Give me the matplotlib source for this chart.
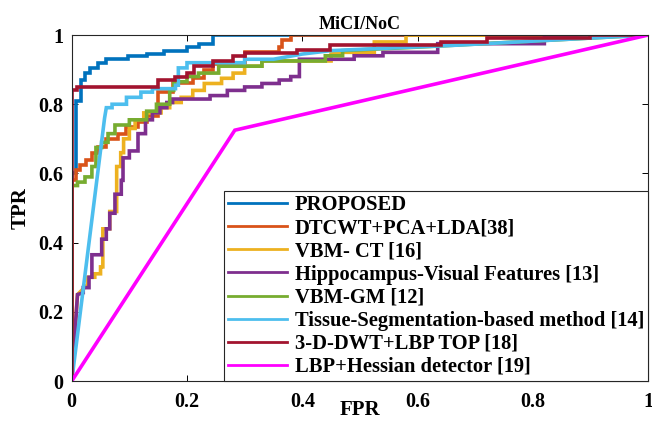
import matplotlib
matplotlib.use('Agg')
import matplotlib.pyplot as plt

# ROC curves (FPR, TPR vertices)
proposed_fpr = [0, 0, 0.008, 0.008, 0.016, 0.016, 0.023, 0.023, 0.031, 0.031, 0.045, 0.045, 0.06, 0.06,
                0.097, 0.097, 0.13, 0.13, 0.16, 0.16, 0.2, 0.2, 0.22, 0.22, 0.245, 0.245, 1]
proposed_tpr = [0, 0.6, 0.6, 0.81, 0.81, 0.87, 0.87, 0.89, 0.89, 0.905, 0.905, 0.92, 0.92, 0.93,
                0.93, 0.94, 0.94, 0.945, 0.945, 0.955, 0.955, 0.965, 0.965, 0.975, 0.975, 1, 1]

dtcwt_fpr = [0, 0, 0.008, 0.008, 0.015, 0.015, 0.025, 0.025, 0.035, 0.035, 0.045, 0.045, 0.06, 0.06,
             0.08, 0.08, 0.095, 0.095, 0.115, 0.115, 0.13, 0.13, 0.15, 0.15, 0.175, 0.175, 0.21, 0.21,
             0.23, 0.23, 0.245, 0.245, 0.3, 0.3, 0.36, 0.36, 0.365, 0.365, 0.38, 0.38, 1]
dtcwt_tpr = [0, 0.58, 0.58, 0.61, 0.61, 0.625, 0.625, 0.64, 0.64, 0.66, 0.66, 0.675, 0.675, 0.70,
             0.70, 0.715, 0.715, 0.735, 0.735, 0.75, 0.75, 0.765, 0.765, 0.835, 0.835, 0.86, 0.86, 0.875,
             0.875, 0.90, 0.90, 0.915, 0.915, 0.95, 0.95, 0.965, 0.965, 0.985, 0.985, 1.0, 1]

vbmct_fpr = [0, 0.01, 0.028, 0.028, 0.04, 0.04, 0.05, 0.05, 0.054, 0.054, 0.066, 0.066, 0.078, 0.078,
             0.085, 0.085, 0.09, 0.09, 0.1, 0.1, 0.11, 0.11, 0.125, 0.125, 0.155, 0.155, 0.17, 0.17,
             0.19, 0.19, 0.21, 0.21, 0.23, 0.23, 0.26, 0.26, 0.28, 0.28, 0.3, 0.3, 0.33, 0.33,
             0.45, 0.45, 0.525, 0.525, 0.58, 0.58, 1]
vbmct_tpr = [0, 0.25, 0.28, 0.30, 0.30, 0.31, 0.31, 0.33, 0.33, 0.44, 0.44, 0.49, 0.49, 0.62,
             0.62, 0.66, 0.66, 0.70, 0.70, 0.73, 0.73, 0.755, 0.755, 0.775, 0.775, 0.79, 0.79, 0.805,
             0.805, 0.82, 0.82, 0.84, 0.84, 0.86, 0.86, 0.875, 0.875, 0.89, 0.89, 0.91, 0.91, 0.925,
             0.925, 0.95, 0.95, 0.98, 0.98, 1.0, 1]

hippo_fpr = [0, 0.01, 0.02, 0.02, 0.03, 0.03, 0.035, 0.035, 0.052, 0.052, 0.06, 0.06, 0.066, 0.066,
             0.075, 0.075, 0.086, 0.086, 0.089, 0.089, 0.1, 0.1, 0.115, 0.115, 0.128, 0.128, 0.14, 0.14,
             0.153, 0.153, 0.165, 0.165, 0.175, 0.175, 0.24, 0.24, 0.27, 0.27, 0.3, 0.3, 0.33, 0.33,
             0.36, 0.36, 0.38, 0.38, 0.395, 0.395, 0.49, 0.49, 0.54, 0.54, 0.635, 0.635, 0.82, 0.82, 1]
hippo_tpr = [0, 0.25, 0.255, 0.27, 0.27, 0.30, 0.30, 0.365, 0.365, 0.41, 0.41, 0.44, 0.44, 0.485,
             0.485, 0.54, 0.54, 0.58, 0.58, 0.645, 0.645, 0.665, 0.665, 0.715, 0.715, 0.755, 0.755, 0.775,
             0.775, 0.79, 0.79, 0.805, 0.805, 0.815, 0.815, 0.825, 0.825, 0.84, 0.84, 0.85, 0.85, 0.86,
             0.86, 0.87, 0.87, 0.88, 0.88, 0.93, 0.93, 0.94, 0.94, 0.95, 0.95, 0.975, 0.975, 1, 1]

vbmgm_fpr = [0, 0, 0.01, 0.01, 0.023, 0.023, 0.035, 0.035, 0.042, 0.042, 0.052, 0.052, 0.063, 0.063,
             0.075, 0.075, 0.1, 0.1, 0.13, 0.13, 0.147, 0.147, 0.17, 0.17, 0.177, 0.177, 0.2, 0.2,
             0.22, 0.22, 0.255, 0.255, 0.33, 0.33, 0.44, 0.44, 0.47, 0.47, 0.6, 1]
vbmgm_tpr = [0, 0.565, 0.565, 0.575, 0.575, 0.59, 0.59, 0.62, 0.62, 0.675, 0.675, 0.69, 0.69, 0.715,
             0.715, 0.74, 0.74, 0.755, 0.755, 0.78, 0.78, 0.80, 0.80, 0.84, 0.84, 0.865, 0.865, 0.88,
             0.88, 0.89, 0.89, 0.91, 0.91, 0.925, 0.925, 0.94, 0.94, 0.955, 0.965, 1]

tissue_fpr = [0, 0.057, 0.06, 0.07, 0.07, 0.095, 0.095, 0.12, 0.12, 0.14, 0.14, 0.18, 0.18, 0.185,
              0.185, 0.2, 0.2, 0.3, 0.3, 0.35, 0.4, 0.45, 0.66, 1]
tissue_tpr = [0, 0.76, 0.79, 0.79, 0.80, 0.80, 0.82, 0.82, 0.835, 0.835, 0.845, 0.845, 0.855, 0.855,
              0.905, 0.905, 0.92, 0.92, 0.93, 0.93, 0.945, 0.955, 0.97, 1]

dwt_fpr = [0, 0, 0.01, 0.01, 0.15, 0.15, 0.18, 0.18, 0.2, 0.2, 0.212, 0.212, 0.245, 0.245,
           0.28, 0.28, 0.3, 0.3, 0.39, 0.39, 0.448, 0.448, 0.64, 0.64, 0.72, 0.72, 0.9, 0.9, 1]
dwt_tpr = [0, 0.84, 0.84, 0.85, 0.85, 0.87, 0.87, 0.88, 0.88, 0.89, 0.89, 0.91, 0.91, 0.925,
           0.925, 0.94, 0.94, 0.948, 0.948, 0.958, 0.958, 0.97, 0.97, 0.98, 0.98, 0.99, 0.99, 1.0, 1]

lbp_fpr = [0, 0.283, 1]
lbp_tpr = [0, 0.725, 1]

labels = ['PROPOSED', 'DTCWT+PCA+LDA[38]', 'VBM- CT [16]', 'Hippocampus-Visual Features [13]',
          'VBM-GM [12]', 'Tissue-Segmentation-based method [14]', '3-D-DWT+LBP TOP [18]',
          'LBP+Hessian detector [19]']
colors = ['#0072BD', '#D95319', '#EDB120', '#7E2F8E', '#77AC30', '#4DBEEE', '#A2142F', '#FF00FF']

curves = [(proposed_fpr, proposed_tpr), (dtcwt_fpr, dtcwt_tpr), (vbmct_fpr, vbmct_tpr),
          (hippo_fpr, hippo_tpr), (vbmgm_fpr, vbmgm_tpr), (tissue_fpr, tissue_tpr),
          (dwt_fpr, dwt_tpr), (lbp_fpr, lbp_tpr)]

plt.rcParams['font.family'] = ['Liberation Serif', 'DejaVu Serif']
plt.rcParams['font.weight'] = 'bold'

fig = plt.figure(figsize=(6.52, 4.22), dpi=100)
ax = fig.add_axes([0.110, 0.097, 0.884, 0.820])

for (fpr, tpr), lab, col in zip(curves, labels, colors):
    ax.plot(fpr, tpr, color=col, linewidth=2.6, label=lab, solid_joinstyle='miter')

ax.set_xlim(0, 1)
ax.set_ylim(0, 1)
ax.set_xticks([0, 0.2, 0.4, 0.6, 0.8, 1])
ax.set_yticks([0, 0.2, 0.4, 0.6, 0.8, 1])
ax.set_xticklabels(['0', '0.2', '0.4', '0.6', '0.8', '1'])
ax.set_yticklabels(['0', '0.2', '0.4', '0.6', '0.8', '1'])
ax.tick_params(direction='in', length=4, width=0.7, top=True, right=True, labelsize=14.5)
ax.tick_params(axis='x', pad=8)
ax.tick_params(axis='y', pad=6)
for s in ax.spines.values():
    s.set_linewidth(0.8)
    s.set_color('#262626')

ax.set_title('MiCI/NoC', fontsize=13, fontweight='bold', pad=4)
ax.set_xlabel('FPR', fontsize=15, fontweight='bold')
ax.set_ylabel('TPR', fontsize=15, fontweight='bold')
ax.xaxis.set_label_coords(0.5, -0.055)
ax.yaxis.set_label_coords(-0.072, 0.5)

leg = ax.legend(loc='lower right', fontsize=14.8, frameon=True, fancybox=False, framealpha=1,
                edgecolor='#262626', borderaxespad=0, handlelength=2.9, handletextpad=0.35,
                labelspacing=0.15, borderpad=0.2)
leg.get_frame().set_linewidth(0.8)
for line in leg.get_lines():
    line.set_linewidth(2.0)

fig.savefig('out.png', dpi=100)
